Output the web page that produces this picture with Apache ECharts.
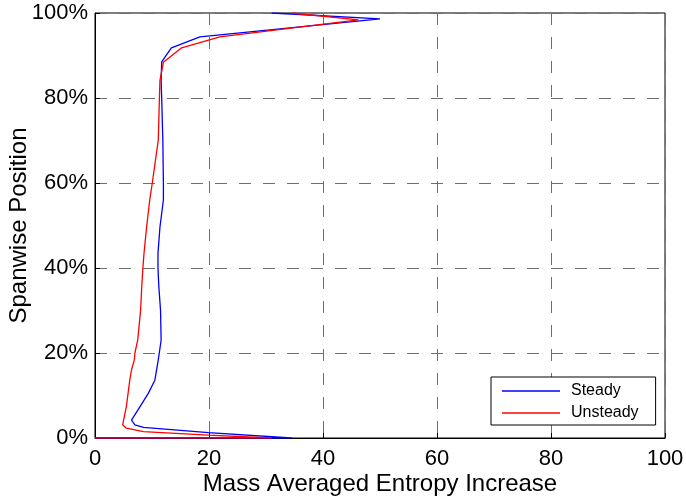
<!DOCTYPE html>
<html>
<head>
<meta charset="utf-8">
<script src="https://cdn.jsdelivr.net/npm/echarts@6/dist/echarts.min.js"></script>
<style>
  html, body { margin: 0; padding: 0; background: #fff; }
  #chart { width: 686px; height: 503px; }
</style>
</head>
<body>
<div id="chart"></div>
<script>
// Spanwise distribution of mass-averaged entropy increase.
// Each point: [entropy increase, spanwise position in %]
const steadyEntropy = [0, 34.5, 34.2, 19.9, 8.5, 7.0, 6.4, 7.9, 9.35, 10.5, 11.1, 11.6, 11.5, 11.2, 11.05, 11.05, 11.4, 12.0, 12.0, 11.9, 11.7, 11.6, 11.7, 13.4, 18.4, 50.0, 31.0];
const steadySpan    = [0, 0, 0.1, 1.25, 2.5, 3.1, 4.2, 7.4, 10.5, 13.6, 18.4, 23.0, 30.0, 35.6, 40.0, 43.5, 49.7, 56.0, 60.0, 70.0, 80.0, 84.0, 88.5, 91.8, 94.4, 98.6, 100];

const unsteadyEntropy = [0, 31.0, 30.7, 19.9, 8.5, 5.5, 4.85, 5.5, 5.8, 6.1, 6.4, 6.9, 7.0, 7.5, 8.0, 8.2, 8.4, 8.6, 9.06, 9.6, 10.05, 11.1, 11.3, 11.4, 12.0, 15.2, 21.9, 46.2, 34.5];
const unsteadySpan    = [0, 0, 0.1, 0.7, 1.5, 2.3, 3.1, 7.4, 10.5, 13.6, 16.0, 18.4, 20.0, 23.1, 30.1, 35.6, 40.0, 43.5, 49.7, 56.0, 60.0, 70.1, 80.0, 84.2, 88.4, 91.8, 94.4, 98.4, 100];

const xTicks = [0, 20, 40, 60, 80, 100];
const yTicks = [0, 20, 40, 60, 80, 100];

const pair = (xs, ys) => xs.map((x, i) => [x, ys[i]]);

const FONT = '"Liberation Sans", Arial, sans-serif';
const gridLine = { show: true, lineStyle: { color: '#6e6e6e', width: 1, type: [12, 12] } };

const chart = echarts.init(document.getElementById('chart'), null, { renderer: 'canvas' });
chart.setOption({
  animation: false,
  backgroundColor: '#fff',
  grid: {
    left: 95, right: 21, top: 13, bottom: 65,
    containLabel: false, outerBoundsMode: 'none',
    show: true, borderColor: '#000', borderWidth: 1, backgroundColor: '#fff'
  },
  legend: {
    data: ['Steady', 'Unsteady'],
    orient: 'vertical',
    left: 491, top: 377,
    padding: [6, 17, 4, 11],
    icon: 'rect',
    itemWidth: 58, itemHeight: 1.4, itemGap: 6,
    borderColor: '#000', borderWidth: 1, borderRadius: 0,
    backgroundColor: '#fff',
    textStyle: { fontFamily: FONT, fontSize: 16, color: '#000', padding: [0, 0, 0, 6], lineHeight: 16 }
  },
  xAxis: {
    type: 'value', min: xTicks[0], max: xTicks[xTicks.length - 1], interval: 20,
    name: 'Mass Averaged Entropy Increase', nameLocation: 'middle', nameGap: 34,
    nameMoveOverlap: false,
    nameTextStyle: { fontFamily: FONT, fontSize: 24, color: '#000' },
    axisLine: { show: true, lineStyle: { color: '#000', width: 1 } },
    axisTick: { show: true, inside: true, length: 5, lineStyle: { color: '#000' } },
    axisLabel: { fontFamily: FONT, fontSize: 22, color: '#000', margin: 10 },
    splitLine: gridLine
  },
  yAxis: {
    type: 'value', min: yTicks[0], max: yTicks[yTicks.length - 1], interval: 20,
    name: 'Spanwise Position', nameLocation: 'middle', nameGap: 64,
    nameMoveOverlap: false,
    nameTextStyle: { fontFamily: FONT, fontSize: 24, color: '#000' },
    axisLine: { show: true, lineStyle: { color: '#000', width: 1 } },
    axisTick: { show: true, inside: true, length: 5, lineStyle: { color: '#000' } },
    axisLabel: { fontFamily: FONT, fontSize: 22, color: '#000', margin: 7, formatter: v => v + '%' },
    splitLine: gridLine
  },
  series: [
    {
      name: 'Steady', type: 'line', data: pair(steadyEntropy, steadySpan),
      symbol: 'none', smooth: false, z: 2,
      lineStyle: { color: '#0000ff', width: 1.3 }, itemStyle: { color: '#0000ff' }
    },
    {
      name: 'Unsteady', type: 'line', data: pair(unsteadyEntropy, unsteadySpan),
      symbol: 'none', smooth: false, z: 3,
      lineStyle: { color: '#ff0000', width: 1.3 }, itemStyle: { color: '#ff0000' }
    }
  ]
});
</script>
</body>
</html>
